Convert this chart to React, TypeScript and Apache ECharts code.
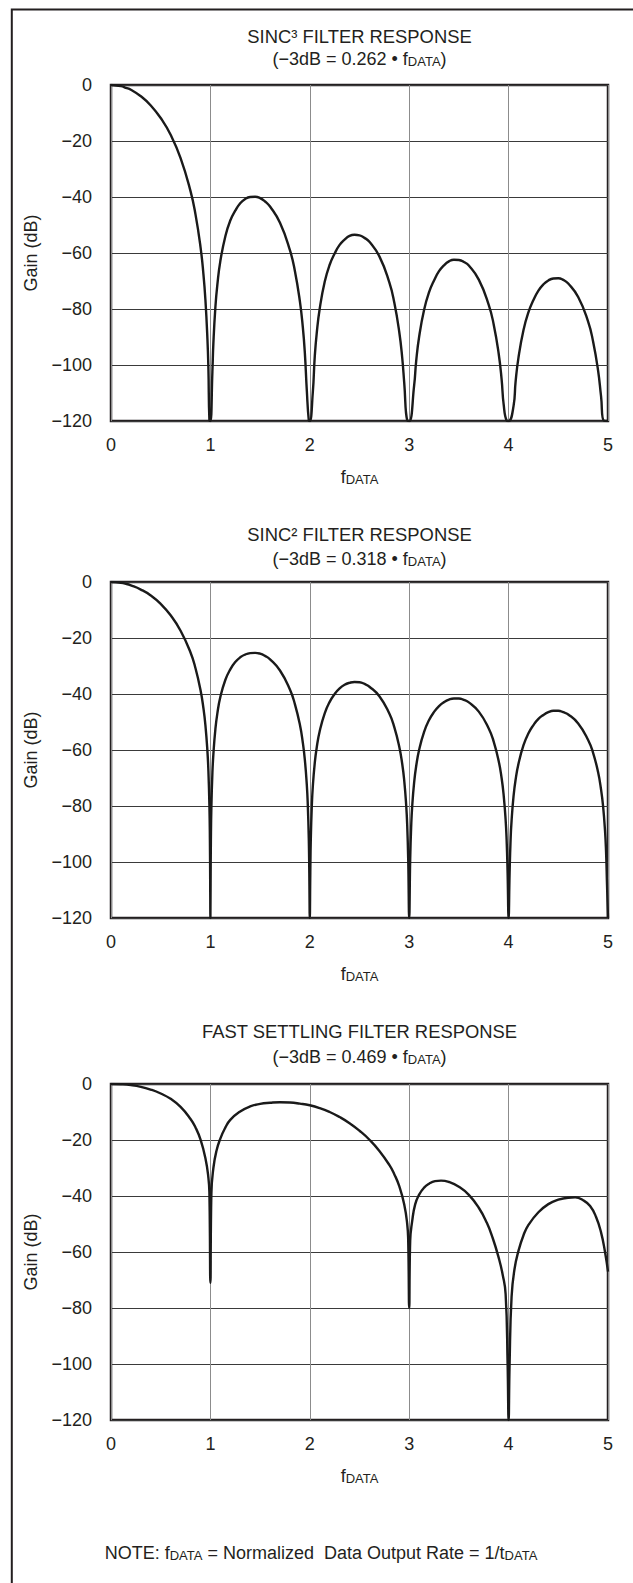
import { useEffect, useRef } from 'react';
import * as echarts from 'echarts';

// ---------- data ----------
const xTicks = [0, 1, 2, 3, 4, 5];
const yTicks = [0, -20, -40, -60, -80, -100, -120];
const chartTitles = ['SINC³ FILTER RESPONSE', 'SINC² FILTER RESPONSE', 'FAST SETTLING FILTER RESPONSE'];
const cornerFreqs = ['0.262', '0.318', '0.469'];

const sinc3Points: [number, number][] = [
  [0, 0], [0.1, -0.4], [0.15, -1.0], [0.2, -1.7], [0.3, -4.0], [0.4, -7.3], [0.5, -11.8], [0.6, -17.8],
  [0.7, -26.1], [0.8, -37.9], [0.85, -46.2], [0.9, -57.7], [0.93, -67.6], [0.95, -76.8], [0.97, -90.6],
  [0.98, -101.4], [0.99, -119.7], [1, -120],
  [1.02, -102.5], [1.03, -92.2], [1.05, -79.4], [1.07, -71.3], [1.1, -62.9], [1.15, -54.1],
  [1.2, -48.4], [1.25, -44.9], [1.3, -42.2], [1.35, -40.7], [1.4, -40.0], [1.45, -39.9], [1.5, -40.4],
  [1.55, -41.6], [1.6, -43.4], [1.7, -49.2], [1.8, -59.0],
  [1.85, -66.4], [1.9, -77.2], [1.93, -86.6], [1.95, -95.6], [1.97, -109.1], [1.99, -119.8], [2, -120],
  [2.03, -109.9], [2.05, -96.9], [2.07, -88.5], [2.1, -79.8], [2.15, -70.3], [2.2, -64.2],
  [2.25, -60.2], [2.3, -57.1], [2.35, -55.2], [2.4, -53.9], [2.45, -53.5], [2.5, -53.7], [2.55, -54.6],
  [2.6, -56.0], [2.7, -61.2], [2.8, -70.5], [2.85, -77.7],
  [2.9, -88.2], [2.93, -97.5], [2.95, -106.4], [2.98, -119.8], [3, -120],
  [3.05, -107.2], [3.07, -98.7], [3.1, -89.9], [3.15, -80.3], [3.2, -74.0], [3.25, -69.8], [3.3, -66.5],
  [3.35, -64.4], [3.4, -63.0], [3.45, -62.4], [3.5, -62.5], [3.55, -63.2], [3.6, -64.5], [3.7, -69.5],
  [3.8, -78.5], [3.85, -85.5], [3.9, -95.9], [3.93, -105.2], [3.95, -114.0], [3.98, -119.8], [4, -120],
  [4.05, -114.6], [4.07, -106.1], [4.1, -97.2], [4.15, -87.5], [4.2, -81.1], [4.25, -76.8], [4.3, -73.4],
  [4.35, -71.2], [4.4, -69.8], [4.45, -69.1], [4.5, -69.0], [4.55, -69.6], [4.6, -70.9], [4.7, -75.7],
  [4.8, -84.5], [4.85, -91.6], [4.9, -101.9], [4.93, -111.1], [4.96, -119.9], [5, -120],
];

const sinc2Points: [number, number][] = [
  [0, 0], [0.1, -0.3], [0.15, -0.65], [0.2, -1.2], [0.3, -2.7], [0.4, -4.8], [0.5, -7.8], [0.6, -11.9],
  [0.7, -17.4], [0.8, -25.2], [0.85, -30.8], [0.9, -38.5], [0.93, -45.1], [0.95, -51.2], [0.97, -60.4],
  [0.98, -67.6], [0.99, -79.8], [0.995, -92], [0.998, -108], [1, -120],
  [1.002, -108], [1.005, -92.1], [1.01, -80.2], [1.02, -68.3], [1.03, -61.5], [1.05, -52.6], [1.07, -46.9],
  [1.1, -41.1], [1.15, -35.0], [1.2, -31.2], [1.25, -28.6], [1.3, -26.9], [1.35, -25.9], [1.4, -25.4],
  [1.45, -25.3], [1.5, -25.6], [1.55, -26.4], [1.6, -27.6], [1.7, -31.6], [1.8, -38.4], [1.85, -43.6],
  [1.9, -50.9], [1.93, -57.4], [1.95, -63.4], [1.97, -72.5],
  [1.98, -79.8], [1.99, -92.0], [1.995, -104.0], [2, -120],
  [2.005, -104.1], [2.01, -92.1], [2.02, -80.2], [2.03, -73.2], [2.05, -64.6], [2.07, -59.0], [2.1, -53.2],
  [2.15, -46.9], [2.2, -42.8], [2.25, -40.0], [2.3, -38.0], [2.35, -36.7], [2.4, -36.0], [2.45, -35.7],
  [2.5, -35.8], [2.55, -36.4], [2.6, -37.4], [2.7, -40.8],
  [2.8, -47.0], [2.85, -51.8], [2.9, -58.8], [2.93, -65.0], [2.95, -70.9], [2.97, -79.9], [2.98, -86.9],
  [2.99, -99.0], [3, -120],
  [3.01, -99.1], [3.02, -87.2], [3.03, -80.2], [3.05, -71.5], [3.07, -65.8], [3.1, -59.9], [3.15, -53.5],
  [3.2, -49.3], [3.25, -46.4], [3.3, -44.3], [3.35, -42.9], [3.4, -42.0], [3.45, -41.6], [3.5, -41.6],
  [3.55, -42.1], [3.6, -43.0], [3.7, -46.3], [3.8, -52.3],
  [3.85, -57.0], [3.9, -63.9], [3.93, -70.1], [3.95, -76.0], [3.97, -84.9], [3.98, -92.0], [3.99, -104.0],
  [4, -120],
  [4.01, -104.1], [4.02, -92.1], [4.03, -85.2], [4.05, -76.4], [4.07, -70.7], [4.1, -64.8], [4.15, -58.3],
  [4.2, -54.0], [4.25, -51.1], [4.3, -48.9], [4.35, -47.5], [4.4, -46.5], [4.45, -46.0], [4.5, -46.0],
  [4.55, -46.5], [4.6, -47.3], [4.7, -50.5], [4.8, -56.4],
  [4.85, -61.0], [4.9, -67.9], [4.93, -74.1], [4.95, -79.9], [4.97, -88.8], [4.98, -95.9], [4.99, -107.9],
  [5, -120],
];

const fastPoints: [number, number][] = [
  [0, 0], [0.1, -0.1], [0.2, -0.4], [0.3, -1.0], [0.4, -2.0], [0.5, -3.4], [0.6, -5.3], [0.7, -8.2],
  [0.8, -12.5], [0.85, -15.5], [0.9, -19.8], [0.95, -26.5], [0.98, -33.5], [0.99, -39], [1, -71],
  [1.01, -39], [1.03, -30], [1.06, -24], [1.1, -19.5], [1.15, -15.6], [1.2, -12.8], [1.3, -9.8],
  [1.4, -8.0], [1.5, -7.1], [1.6, -6.7], [1.7, -6.5], [1.8, -6.6], [1.9, -7.0], [2.0, -7.6], [2.1, -8.6],
  [2.2, -10.0], [2.3, -11.8], [2.4, -14.0], [2.5, -16.7], [2.6, -19.9], [2.7, -23.9], [2.8, -28.9],
  [2.85, -32.2], [2.9, -36.5], [2.95, -43], [2.98, -50], [2.99, -56], [3, -80], [3.01, -56], [3.03, -49],
  [3.06, -43], [3.1, -39.5], [3.15, -37], [3.2, -35.6], [3.26, -34.7], [3.32, -34.5], [3.4, -35.0],
  [3.5, -36.7], [3.6, -39.6], [3.7, -44.2], [3.78, -49.5], [3.84, -55], [3.9, -62], [3.94, -68],
  [3.97, -75], [3.99, -100], [4, -120], [4.01, -100], [4.03, -76], [4.06, -66], [4.1, -59.5],
  [4.15, -54], [4.2, -50.3], [4.3, -45.8], [4.4, -42.9], [4.5, -41.3], [4.6, -40.6], [4.67, -40.5],
  [4.75, -41.5], [4.82, -43.6], [4.88, -47.5], [4.93, -53], [4.97, -60], [5, -67],
];

const seriesPoints = [sinc3Points, sinc2Points, fastPoints];

// ---------- layout ----------
const W = 633;
const H = 1583;
const PLOT_LEFT = 111;
const PLOT_W = 497;
const PLOT_H = 336;
const plotTops = [85, 582, 1084];
const titleCenters = [36, 534, 1031];
const subCenters = [57, 557, 1055];
const FONT = '"Liberation Sans", Arial, Helvetica, sans-serif';
const INK = '#231f20';

const richText = {
  a: { fontSize: 18, lineHeight: 22, verticalAlign: 'bottom', color: INK, fontFamily: FONT, fontWeight: 'normal' },
  s: { fontSize: 13, lineHeight: 6, verticalAlign: 'bottom', color: INK, fontFamily: FONT, fontWeight: 'normal' },
};

export default function App() {
  const ref = useRef<HTMLDivElement>(null);

  useEffect(() => {
    document.body.style.margin = '0';
    if (!ref.current) return;
    const chart = echarts.init(ref.current, undefined, { renderer: 'svg' });
    const cx = PLOT_LEFT + PLOT_W / 2;

    const grids = plotTops.map((t) => ({
      left: PLOT_LEFT,
      top: t,
      width: PLOT_W,
      height: PLOT_H,
      show: true,
      borderColor: INK,
      borderWidth: 2.5,
      backgroundColor: 'transparent',
      containLabel: false,
    }));

    const xAxes = plotTops.map((_, i) => ({
      type: 'value',
      gridIndex: i,
      min: xTicks[0],
      max: xTicks[xTicks.length - 1],
      interval: 1,
      axisLine: { show: false },
      axisTick: { show: false },
      splitLine: { show: true, lineStyle: { color: '#8c8c8c', width: 1 } },
      axisLabel: { fontSize: 18, color: INK, fontFamily: FONT, margin: 15 },
      name: '{a|f}{s|DATA}',
      nameLocation: 'middle',
      nameGap: 43,
      nameTextStyle: { fontWeight: 'normal', rich: richText },
    }));

    const yAxes = plotTops.map((_, i) => ({
      type: 'value',
      gridIndex: i,
      min: yTicks[yTicks.length - 1],
      max: yTicks[0],
      interval: 20,
      axisLine: { show: false },
      axisTick: { show: false },
      splitLine: { show: true, lineStyle: { color: '#3a3a3a', width: 1 } },
      axisLabel: {
        fontSize: 18,
        color: INK,
        fontFamily: FONT,
        margin: 19,
        formatter: (v: number) => String(v).replace('-', '\u2212'),
      },
      name: 'Gain (dB)',
      nameLocation: 'middle',
      nameRotate: 90,
      nameGap: 71,
      nameTextStyle: { fontSize: 18, color: INK, fontFamily: FONT },
    }));

    const series = seriesPoints.map((pts, i) => ({
      type: 'line',
      xAxisIndex: i,
      yAxisIndex: i,
      data: pts,
      showSymbol: false,
      smooth: 0.5,
      lineStyle: { color: '#1a1a1a', width: 2.4 },
      clip: true,
    }));

    const titles: any[] = [];
    chartTitles.forEach((t, i) => {
      titles.push({
        text: t,
        left: cx,
        top: titleCenters[i] - 9.5,
        textAlign: 'center',
        padding: 0,
        textStyle: { fontSize: 18.4, lineHeight: 19, fontWeight: 'normal', color: INK, fontFamily: FONT },
      });
      titles.push({
        text: `{a|(\u22123dB = ${cornerFreqs[i]} \u2022 f}{s|DATA}{a|)}`,
        left: cx,
        top: subCenters[i] - 11,
        textAlign: 'center',
        padding: 0,
        textStyle: { fontWeight: 'normal', rich: richText },
      });
    });
    titles.push({
      text: '{a|NOTE: f}{s|DATA}{a| = Normalized  Data Output Rate = 1/t}{s|DATA}',
      left: 321,
      top: 1551 - 11,
      textAlign: 'center',
      padding: 0,
      textStyle: { fontWeight: 'normal', rich: richText },
    });

    chart.setOption({
      animation: false,
      backgroundColor: '#ffffff',
      title: titles,
      grid: grids,
      xAxis: xAxes,
      yAxis: yAxes,
      series,
      graphic: [
        {
          type: 'rect',
          silent: true,
          shape: { x: 11.8, y: 9.5, width: 700, height: 1700 },
          style: { fill: 'transparent', stroke: INK, lineWidth: 2 },
        },
      ],
    });

    return () => chart.dispose();
  }, []);

  return <div ref={ref} style={{ width: W, height: H }} />;
}
